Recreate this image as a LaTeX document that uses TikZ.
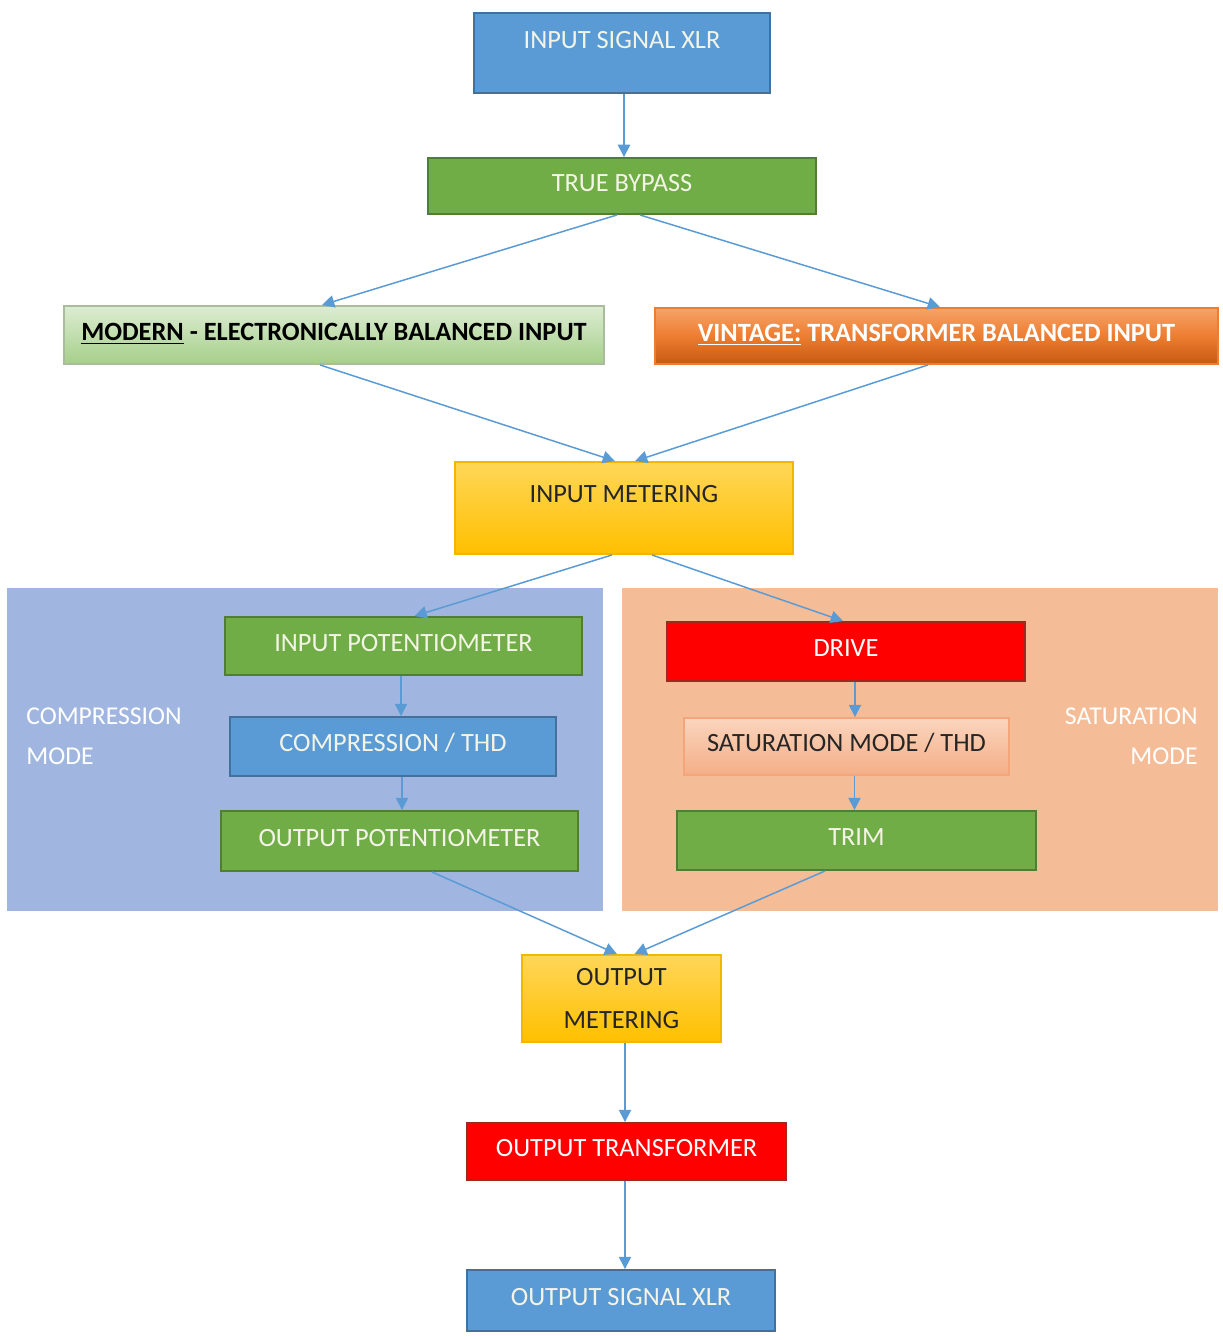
\documentclass[tikz,border=0pt]{standalone}
\usepackage{fontspec}
\setmainfont{Carlito}
\usepackage{tikz}
\usetikzlibrary{arrows.meta,positioning,calc}
\definecolor{boxBlue}{HTML}{5B9BD5}
\definecolor{boxBlueLine}{HTML}{41719C}
\definecolor{boxGreen}{HTML}{70AD47}
\definecolor{boxGreenLine}{HTML}{507E32}
\definecolor{boxRed}{HTML}{FF0000}
\definecolor{boxRedLine}{HTML}{9C2A1E}
\definecolor{goldTop}{HTML}{FFD658}
\definecolor{goldBottom}{HTML}{FFC000}
\definecolor{goldLine}{HTML}{F2B800}
\definecolor{mintTop}{HTML}{DCECD2}
\definecolor{mintBottom}{HTML}{A6CF8A}
\definecolor{mintLine}{HTML}{A9BD9C}
\definecolor{rustTop}{HTML}{F6A468}
\definecolor{rustMid}{HTML}{ED7D31}
\definecolor{rustBottom}{HTML}{C55A11}
\definecolor{salmonTop}{HTML}{FAD5BE}
\definecolor{salmonBottom}{HTML}{F4AE86}
\definecolor{salmonLine}{HTML}{F4A67A}
\definecolor{compPanel}{HTML}{A0B6E0}
\definecolor{satPanel}{HTML}{F4BD98}
\definecolor{flowBlue}{HTML}{5B9BD5}
\definecolor{paleText}{HTML}{F4F4E6}
\definecolor{darkText}{HTML}{262626}

\begin{document}
\begin{tikzpicture}[x=0.02cm,y=-0.02cm,
    box/.style={draw,line width=1.1pt,inner sep=0pt,align=center,
                font=\fontsize{15}{24.4}\selectfont},
    oneline/.style={text height=10pt,text depth=4pt},
    bluebox/.style={box,oneline,fill=boxBlue,draw=boxBlueLine,text=paleText},
    greenbox/.style={box,oneline,fill=boxGreen,draw=boxGreenLine,text=paleText},
    redbox/.style={box,oneline,fill=boxRed,draw=boxRedLine,text=white},
    goldbox/.style={box,top color=goldTop,bottom color=goldBottom,draw=goldLine,text=darkText},
    panel/.style={inner sep=0pt,minimum height=6.46cm,minimum width=11.92cm},
    modelabel/.style={text=white,inner sep=0pt,font=\fontsize{14.6}{22.7}\selectfont},
    flow/.style={draw=flowBlue,line width=0.85pt,-{Triangle[width=7pt,length=7pt]}}]
    \useasboundingbox[fill=white] (0,0) rectangle (1223,1340);

    % the two mode panels
    \node[panel,fill=compPanel] (comppanel) at (305,749.5) {};
    \node[panel,fill=satPanel] (satpanel) at (920,749.5) {};
    \node[modelabel,anchor=west,align=left] (complabel) at (26,736) {COMPRESSION\\MODE};
    \node[modelabel,anchor=east,align=right] (satlabel) at (1198,736) {SATURATION\\MODE};

    % main chain
    \node[bluebox,minimum width=5.92cm,minimum height=1.6cm,
          label={[text=paleText,font=\fontsize{15}{18}\selectfont,yshift=0.26cm]center:INPUT SIGNAL XLR}]
          (insig) at (622,53) {};
    \node[greenbox,minimum width=7.76cm,minimum height=1.12cm] (bypass) at (622,186) {TRUE BYPASS};
    \node[box,oneline,top color=mintTop,bottom color=mintBottom,draw=mintLine,text=black,
          minimum width=10.8cm,minimum height=1.16cm,font=\fontsize{15}{18}\selectfont\bfseries]
          (modern) at (334,335) {\underline{MODERN} - ELECTRONICALLY BALANCED INPUT};
    \node[box,oneline,top color=rustTop,bottom color=rustBottom,middle color=rustMid,draw=rustMid,text=white,
          minimum width=11.26cm,minimum height=1.12cm,font=\fontsize{15}{18}\selectfont\bfseries]
          (vintage) at (936.5,336) {\underline{VINTAGE:} TRANSFORMER BALANCED INPUT};
    \node[goldbox,minimum width=6.76cm,minimum height=1.84cm,
          label={[text=darkText,font=\fontsize{15}{18}\selectfont,yshift=0.28cm]center:INPUT METERING}]
          (inmeter) at (624,508) {};

    % compression side
    \node[greenbox,minimum width=7.14cm,minimum height=1.16cm] (inpot) at (403.5,646) {INPUT POTENTIOMETER};
    \node[bluebox,minimum width=6.52cm,minimum height=1.18cm] (comp) at (393,746.5) {COMPRESSION / THD};
    \node[greenbox,minimum width=7.14cm,minimum height=1.2cm] (outpot) at (399.5,841) {OUTPUT POTENTIOMETER};

    % saturation side
    \node[redbox,minimum width=7.16cm,minimum height=1.18cm] (drive) at (846,651.5) {DRIVE};
    \node[box,oneline,top color=salmonTop,bottom color=salmonBottom,draw=salmonLine,text=darkText,
          minimum width=6.5cm,minimum height=1.14cm] (satmode) at (846.5,746.5) {SATURATION MODE / THD};
    \node[greenbox,minimum width=7.18cm,minimum height=1.18cm] (trim) at (856.5,840.5) {TRIM};

    % output chain
    \node[goldbox,minimum width=3.98cm,minimum height=1.74cm] (outmeter) at (621.5,998.5) {OUTPUT\\METERING};
    \node[redbox,minimum width=6.38cm,minimum height=1.14cm] (outtrans) at (626.5,1151.5) {OUTPUT TRANSFORMER};
    \node[bluebox,minimum width=6.16cm,minimum height=1.22cm] (outsig) at (621,1300.5) {OUTPUT SIGNAL XLR};

    % connectors
    \draw[flow] ([xshift=0.04cm]insig.south) -- ([xshift=0.04cm]insig.south |- bypass.north);
    \draw[flow] ([xshift=-0.1cm]bypass.south) -- ([xshift=-0.24cm]modern.north);
    \draw[flow] ([xshift=0.36cm]bypass.south) -- ([xshift=0.07cm]vintage.north);
    \draw[flow] ([xshift=-0.28cm]modern.south) -- ([xshift=-0.18cm]inmeter.north);
    \draw[flow] ([xshift=-0.17cm]vintage.south) -- ([xshift=0.22cm]inmeter.north);
    \draw[flow] ([xshift=-0.24cm]inmeter.south) -- ([xshift=0.22cm]inpot.north);
    \draw[flow] ([xshift=0.56cm]inmeter.south) -- ([xshift=-0.06cm]drive.north);
    \draw[flow] ([xshift=-0.05cm]inpot.south) -- ([xshift=-0.05cm]inpot.south |- comp.north);
    \draw[flow] ([xshift=0.18cm]comp.south) -- ([xshift=0.18cm]comp.south |- outpot.north);
    \draw[flow] ([xshift=0.18cm]drive.south) -- ([xshift=0.18cm]drive.south |- satmode.north);
    \draw[flow] ([xshift=0.16cm]satmode.south) -- ([xshift=0.16cm]satmode.south |- trim.north);
    \draw[flow] ([xshift=0.65cm]outpot.south) -- ([xshift=-0.09cm]outmeter.north);
    \draw[flow] ([xshift=-0.63cm]trim.south) -- ([xshift=0.26cm]outmeter.north);
    \draw[flow] ([xshift=0.07cm]outmeter.south) -- ([xshift=0.07cm]outmeter.south |- outtrans.north);
    \draw[flow] ([xshift=-0.03cm]outtrans.south) -- ([xshift=-0.03cm]outtrans.south |- outsig.north);
  \end{tikzpicture}
\end{document}
